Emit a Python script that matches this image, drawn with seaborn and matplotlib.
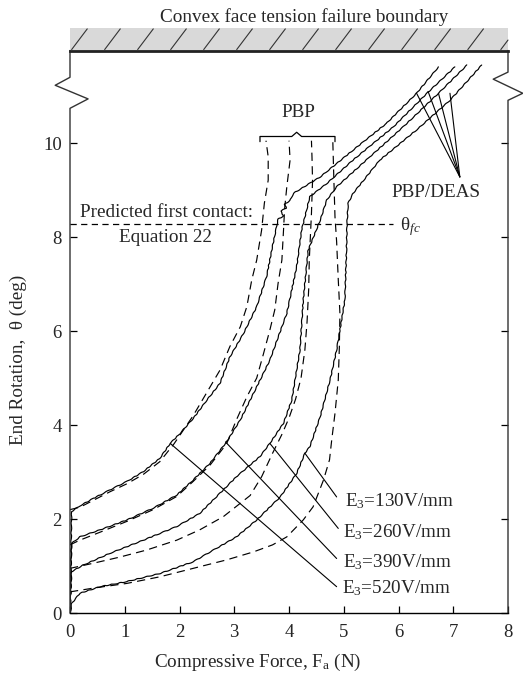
import numpy as np
import pandas as pd
import matplotlib
matplotlib.use("Agg")
import matplotlib.pyplot as plt
import seaborn as sns

# ---------------- data ----------------
# PBP/DEAS (solid) curves
s520_x = [0, 0.02, 0.03, 0.18, 0.43, 0.73, 1.04, 1.34, 1.64, 1.83, 2.01, 2.25, 2.50, 2.74, 2.92,
          3.17, 3.41, 3.59, 3.71, 3.78, 3.80, 3.90, 3.85, 3.95, 3.92, 4.02, 4.08, 4.57, 5.17, 5.78,
          6.33, 6.73]
s520_y = [0, 1.50, 2.16, 2.28, 2.44, 2.62, 2.80, 3.01, 3.29, 3.61, 3.82, 4.14, 4.53, 4.89, 5.45,
          5.95, 6.52, 7.16, 7.87, 8.26, 8.38, 8.45, 8.55, 8.62, 8.70, 8.78, 8.93, 9.28, 9.85, 10.42,
          11.06, 11.62]

s390_x = [0, 0.02, 0.03, 0.18, 0.55, 1.04, 1.52, 1.95, 2.25, 2.56, 2.86, 3.11, 3.35, 3.65, 3.96,
          4.14, 4.23, 4.32, 4.38, 4.69, 5.17, 5.91, 6.52, 7.03]
s390_y = [0, 1.00, 1.48, 1.62, 1.77, 1.98, 2.23, 2.51, 2.83, 3.19, 3.64, 4.11, 4.67, 5.38, 6.38,
          7.37, 8.15, 8.57, 8.86, 9.14, 9.64, 10.35, 11.06, 11.62]

s260_x = [0, 0.02, 0.03, 0.24, 0.73, 1.34, 1.95, 2.37, 2.74, 3.04, 3.47, 3.65, 3.90, 4.05, 4.20,
          4.26, 4.35, 4.57, 4.69, 4.87, 5.48, 6.09, 6.73, 7.25]
s260_y = [0, 0.60, 0.88, 1.02, 1.27, 1.55, 1.84, 2.12, 2.55, 2.90, 3.33, 3.61, 4.04, 4.53, 5.60,
          6.66, 7.72, 8.36, 8.79, 9.07, 9.71, 10.35, 11.06, 11.66]

s130_x = [0, 0.02, 0.03, 0.18, 0.55, 1.04, 1.64, 2.25, 2.62, 3.04, 3.41, 3.84, 4.14, 4.29, 4.38,
          4.57, 4.75, 4.87, 5.02, 5.05, 5.06, 5.08, 5.17, 5.66, 6.33, 6.94, 7.52]
s130_y = [0, 0.10, 0.20, 0.42, 0.56, 0.67, 0.84, 1.09, 1.34, 1.62, 1.98, 2.47, 2.97, 3.40, 3.54,
          4.18, 4.96, 5.60, 6.66, 7.72, 8.30, 8.72, 8.93, 9.64, 10.28, 10.91, 11.66]

# PBP (dashed) curves
d520_x = [0, 0.18, 0.43, 0.73, 1.04, 1.34, 1.64, 1.90, 2.25, 2.74, 2.92, 3.11, 3.23, 3.32, 3.41,
          3.50, 3.55, 3.62, 3.62, 3.58]
d520_y = [2.20, 2.25, 2.40, 2.58, 2.75, 2.95, 3.22, 3.60, 4.20, 5.17, 5.67, 6.09, 6.52, 7.09, 7.51,
          8.15, 8.72, 9.21, 9.71, 10.05]

d390_x = [0, 0.18, 0.55, 1.04, 1.52, 1.95, 2.25, 2.56, 2.86, 3.04, 3.23, 3.41, 3.53, 3.65, 3.74,
          3.80, 3.87, 3.90, 3.92, 3.96, 4.02, 4.00]
d390_y = [1.45, 1.55, 1.72, 1.95, 2.20, 2.48, 2.80, 3.15, 3.60, 4.11, 4.60, 5.00, 5.50, 6.02, 6.45,
          7.01, 7.51, 8.15, 8.60, 9.07, 9.64, 10.05]

d260_x = [0, 0.43, 0.91, 1.40, 1.95, 2.37, 2.80, 3.29, 3.50, 3.70, 3.87, 4.00, 4.12, 4.22, 4.29,
          4.33, 4.36, 4.37, 4.39, 4.41, 4.43, 4.42, 4.41]
d260_y = [0.95, 1.06, 1.19, 1.34, 1.55, 1.77, 2.05, 2.50, 2.90, 3.40, 3.80, 4.15, 4.55, 5.00, 5.60,
          6.20, 6.90, 7.50, 8.00, 8.50, 9.20, 9.70, 10.05]

d130_x = [0, 0.43, 1.04, 1.64, 2.25, 2.86, 3.35, 3.70, 3.96, 4.26, 4.44, 4.63, 4.74, 4.78, 4.84,
          4.90, 4.92, 4.93, 4.90, 4.87, 4.84, 4.82, 4.80]
d130_y = [0.45, 0.53, 0.63, 0.77, 0.95, 1.13, 1.30, 1.45, 1.62, 1.98, 2.26, 2.83, 3.26, 3.68, 4.25,
          4.96, 5.67, 6.38, 7.09, 7.90, 8.43, 9.20, 10.05]

field_labels = ["E$_3$=130V/mm", "E$_3$=260V/mm", "E$_3$=390V/mm", "E$_3$=520V/mm"]
x_ticks = [0, 1, 2, 3, 4, 5, 6, 7, 8]
y_ticks = [0, 2, 4, 6, 8, 10]
theta_fc = 8.27

curves = [
    ("s520", "solid", s520_x, s520_y), ("s390", "solid", s390_x, s390_y),
    ("s260", "solid", s260_x, s260_y), ("s130", "solid", s130_x, s130_y),
    ("d520", "dashed", d520_x, d520_y), ("d390", "dashed", d390_x, d390_y),
    ("d260", "dashed", d260_x, d260_y), ("d130", "dashed", d130_x, d130_y),
]
frames = []
for name, kind, xs, ys in curves:
    frames.append(pd.DataFrame({"curve": name, "kind": kind, "F": xs, "theta": ys}))
df = pd.concat(frames, ignore_index=True)

# ---------------- style ----------------
sns.set_theme(style="ticks")
plt.rcParams["font.family"] = ["Liberation Serif", "DejaVu Serif"]
plt.rcParams["mathtext.fontset"] = "custom"
plt.rcParams["mathtext.rm"] = "Liberation Serif"
plt.rcParams["mathtext.it"] = "Liberation Serif:italic"
FS = 13.8
TFS = 13.5

fig = plt.figure(figsize=(5.23, 6.75), dpi=100)
ax = fig.add_axes([70 / 523, 62 / 675, 438 / 523, 562.5 / 675])

for name, kind, xs, ys in curves:
    sub = df[df["curve"] == name]
    n_before = len(ax.lines)
    if kind == "solid":
        sns.lineplot(data=sub, x="F", y="theta", sort=False, estimator=None,
                     color="black", lw=0.85, ax=ax)
        for ln in ax.lines[n_before:]:
            ln.set_sketch_params(scale=0.35, length=9, randomness=2)
    else:
        sns.lineplot(data=sub, x="F", y="theta", sort=False, estimator=None,
                     color="black", lw=0.85, linestyle=(0, (7, 4.5)), ax=ax)

ax.set_xlim(0, 8)
ax.set_ylim(0, 11.97)
ax.set_xticks(x_ticks)
ax.set_yticks(y_ticks)
ax.set_xticklabels([str(v) for v in x_ticks], fontsize=TFS)
ax.set_yticklabels([str(v) for v in y_ticks], fontsize=TFS)
ax.tick_params(axis="both", direction="in", length=5, width=0.9, color="black")
ax.tick_params(axis="y", right=True, labelright=False, pad=6)
ax.tick_params(axis="x", pad=8)
ax.set_xlabel("")
ax.set_ylabel("")

# spines
ax.spines["left"].set_visible(False)
ax.spines["right"].set_visible(False)
ax.spines["bottom"].set_linewidth(1.0)
ax.spines["bottom"].set_color("black")
ax.spines["top"].set_linewidth(2.0)
ax.spines["top"].set_color("#222222")
ax.spines["top"].set_zorder(5)

# broken side frames
ax.plot([0, 0, 0.33, -0.27, 0, 0], [0, 10.74, 10.94, 11.23, 11.40, 11.97],
        color="#333333", lw=1.0, clip_on=False)
ax.plot([8, 8, 8.27, 7.73, 8, 8], [0, 10.91, 11.06, 11.36, 11.51, 11.97],
        color="#333333", lw=1.0, clip_on=False)

# hatched failure boundary band
ax.add_patch(plt.Rectangle((0, 11.97), 8, 0.48, facecolor="#d9d9d9", edgecolor="none",
                           clip_on=False, zorder=1))
for xs0 in np.arange(0.03, 8.0, 0.603):
    x1 = min(xs0 + 0.285, 8.0)
    y1 = 11.99 + (x1 - xs0) / 0.285 * 0.44
    ax.plot([xs0, x1], [11.99, y1], color="#333333", lw=0.8, clip_on=False, zorder=2)

# theta_fc line
ax.plot([0, 5.9], [theta_fc, theta_fc], color="black", lw=0.9, linestyle=(0, (5, 3.5)))
ax.text(6.03, 8.22, r"θ$_{fc}$", fontsize=FS, ha="left", va="center")
ax.text(1.76, 8.52, "Predicted first contact:", fontsize=FS, ha="center", va="center")
ax.text(1.75, 7.98, "Equation 22", fontsize=FS, ha="center", va="center")

# PBP bracket
ax.plot([3.47, 3.47, 4.05, 4.14, 4.23, 4.84, 4.84],
        [10.03, 10.14, 10.14, 10.23, 10.14, 10.14, 10.03], color="black", lw=0.9)
ax.text(4.17, 10.66, "PBP", fontsize=FS, ha="center", va="center")

# PBP/DEAS leaders
conv = (7.12, 9.28)
for px, py in [(6.33, 11.06), (6.54, 11.10), (6.73, 11.06), (6.94, 11.06)]:
    ax.plot([px, conv[0]], [py, conv[1]], color="black", lw=0.8)
ax.text(6.68, 8.94, "PBP/DEAS", fontsize=FS, ha="center", va="center")

# field labels and leaders
starts = [(4.29, 3.40), (3.65, 3.61), (2.84, 3.64), (1.83, 3.61)]
ends = [(4.87, 2.47), (4.90, 1.80), (4.87, 1.16), (4.87, 0.56)]
label_pos = [(5.02, 2.37), (4.99, 1.73), (4.98, 1.09), (4.96, 0.53)]
for (sx, sy), (ex, ey), (lx, ly), lab in zip(starts, ends, label_pos, field_labels):
    ax.plot([sx, ex], [sy, ey], color="black", lw=0.8)
    ax.text(lx, ly, lab, fontsize=FS, ha="left", va="center")

# axis titles
fig.text(258 / 523, 1 - 662 / 675, "Compressive Force, F$_\\mathrm{a}$ (N)", fontsize=FS,
         ha="center", va="center")
fig.text(18 / 523, 1 - 360 / 675, "End Rotation,  θ (deg)", fontsize=FS, rotation=90,
         ha="center", va="center")
fig.text(304 / 523, 1 - 17 / 675, "Convex face tension failure boundary", fontsize=FS,
         ha="center", va="center")

fig.savefig("out.png", dpi=100)
